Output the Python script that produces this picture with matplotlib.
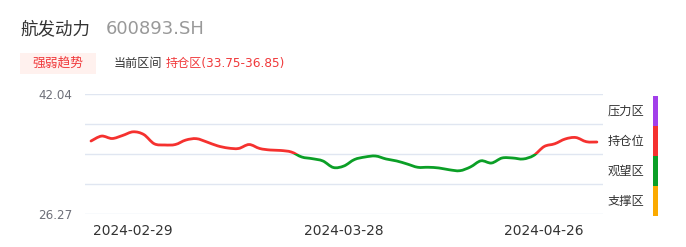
import numpy as np
import matplotlib
matplotlib.use('Agg')
import matplotlib.pyplot as plt
from matplotlib.path import Path
from matplotlib.patches import PathPatch, Rectangle

# data
dates = ['2024-02-23', '2024-02-26', '2024-02-27', '2024-02-28', '2024-02-29',
         '2024-03-01', '2024-03-04', '2024-03-05', '2024-03-06', '2024-03-07',
         '2024-03-08', '2024-03-11', '2024-03-12', '2024-03-13', '2024-03-14',
         '2024-03-15', '2024-03-18', '2024-03-19', '2024-03-20', '2024-03-21',
         '2024-03-22', '2024-03-25', '2024-03-26', '2024-03-27', '2024-03-28',
         '2024-03-29', '2024-04-01', '2024-04-02', '2024-04-03', '2024-04-08',
         '2024-04-09', '2024-04-10', '2024-04-11', '2024-04-12', '2024-04-15',
         '2024-04-16', '2024-04-17', '2024-04-18', '2024-04-19', '2024-04-22',
         '2024-04-23', '2024-04-24', '2024-04-25', '2024-04-26', '2024-04-29',
         '2024-04-30', '2024-05-06', '2024-05-07', '2024-05-08']
prices = [35.86, 36.51, 36.19, 36.59, 37.07, 36.72, 35.50, 35.34, 35.40, 35.99,
          36.17, 35.73, 35.23, 34.94, 34.88, 35.40, 34.88, 34.68, 34.62, 34.42,
          33.76, 33.54, 33.24, 32.38, 32.58, 33.43, 33.76, 33.89, 33.50, 33.24,
          32.84, 32.41, 32.41, 32.32, 32.08, 31.96, 32.45, 33.26, 32.97, 33.63,
          33.63, 33.50, 33.96, 35.14, 35.50, 36.13, 36.32, 35.77, 35.73]
shown_dates = ['2024-02-29', '2024-03-28', '2024-04-26']
y_min, y_max = 26.27, 42.04
zones = ['压力区', '持仓位', '观望区', '支撑区']
zone_colors = ['#a23fea', '#f5312f', '#0b9f26', '#fbaa00']

W, H = 686, 247
fig = plt.figure(figsize=(W / 100, H / 100), dpi=100)

def fx(px):
    return px / W

def fy(py):
    return 1 - py / H

cjk = ['Noto Sans CJK SC', 'DejaVu Sans']
latin = ['DejaVu Sans', 'Noto Sans CJK SC']

# header
fig.text(fx(20), fy(29), '航发动力', family=cjk, fontsize=12.6, color='#333333', va='center')
fig.text(fx(106), fy(29), '600893.SH', family='DejaVu Sans', fontsize=13, color='#999999', va='center')
fig.patches.append(Rectangle((fx(20), fy(74)), fx(76), 21 / H, transform=fig.transFigure,
                             facecolor='#fff1ee', edgecolor='none'))
fig.text(fx(58), fy(63), '强弱趋势', family=cjk, fontsize=9.2, color='#f0393b', ha='center', va='center')
fig.text(fx(114), fy(63), '当前区间', family=cjk, fontsize=8.7, color='#333333', va='center')
fig.text(fx(166), fy(63), '持仓区(33.75-36.85)', family=latin, fontsize=8.7, color='#f0393b', va='center')

# main axes
ax = fig.add_axes([fx(85), fy(214), fx(603) - fx(85), (214 - 94) / H])
x = np.arange(len(prices))
y = np.array(prices)
ax.set_xlim(-0.57, len(prices) - 1 + 0.58)
ax.set_ylim(y_min, y_max)

levels = np.linspace(y_min, y_max, 5)
for lv in levels:
    ax.axhline(lv, color='#e0e6f1', lw=1, zorder=0)
for s in ax.spines.values():
    s.set_visible(False)
ax.tick_params(length=0)
ax.set_yticks([y_min, y_max])
ax.set_yticklabels(['%.2f' % y_min, '%.2f' % y_max], color='#6e7079', fontsize=8.6,
                   family='DejaVu Sans')
ax.tick_params(axis='y', pad=9)
ax.set_xticks([dates.index(d) for d in shown_dates])
ax.set_xticklabels(shown_dates, color='#333333', fontsize=9.9, family='DejaVu Sans')
ax.tick_params(axis='x', pad=7)

# smooth curve through the points (catmull-rom as bezier segments)
verts = [(x[0], y[0])]
codes = [Path.MOVETO]
n = len(x)
for i in range(n - 1):
    p0 = np.array([x[max(i - 1, 0)], y[max(i - 1, 0)]])
    p1 = np.array([x[i], y[i]])
    p2 = np.array([x[i + 1], y[i + 1]])
    p3 = np.array([x[min(i + 2, n - 1)], y[min(i + 2, n - 1)]])
    c1 = p1 + (p2 - p0) / 6
    c2 = p2 - (p3 - p1) / 6
    verts += [tuple(c1), tuple(c2), tuple(p2)]
    codes += [Path.CURVE4] * 3
path = Path(verts, codes)

threshold = levels[2]
for col, lo, hi in [('#f5312f', threshold, y_max + 5), ('#0b9f26', y_min - 5, threshold)]:
    patch = PathPatch(path, facecolor='none', edgecolor=col, lw=2, capstyle='round')
    ax.add_patch(patch)
    clip = Rectangle((-5, lo), 100, hi - lo, transform=ax.transData)
    patch.set_clip_path(clip)

# zone legend on the right
for k, (name, col) in enumerate(zip(zones, zone_colors)):
    top = 96 + 30 * k
    fig.text(fx(626), fy(top + 15), name, family=cjk, fontsize=8.8, color='#333333',
             ha='center', va='center')
    fig.patches.append(Rectangle((fx(653), fy(top + 30)), fx(5), 30 / H,
                                 transform=fig.transFigure, facecolor=col, edgecolor='none'))

fig.savefig('out.png', dpi=100)
